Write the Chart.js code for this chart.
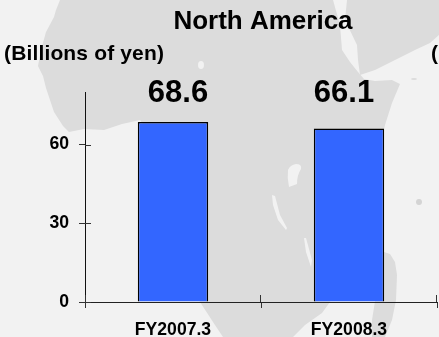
<!DOCTYPE html>
<html>
<head>
<meta charset="utf-8">
<title>North America</title>
<script src="https://cdn.jsdelivr.net/npm/chart.js@4"></script>
<style>
  html, body { margin: 0; padding: 0; background: #f2f2f2; overflow: hidden; }
  #wrap { position: relative; width: 439px; height: 337px; }
  #map, #myChart { position: absolute; left: 0; top: 0; }
  #map { filter: blur(0.5px); }
</style>
</head>
<body>
<div id="wrap">
  <!-- backdrop: pale map of Africa and Arabia -->
  <svg id="map" width="439" height="337" viewBox="0 0 439 337">
    <path fill="#dcdcdc" d="M60 0 L56 10 L54 17 L46 32 L41 50 L38 66 L43 76 L46 88 L54 112 L63 126 L69 132 L84 129 L104 130 L122 124 L140 120 L155 140 L170 190 L185 270 L200 302 L213 322 L223 337 L293 337 L305 325 L322 313 L330 302 L345 262 L375 170 L385 125 L392 103 L400 84 L392 80 L375 81 L364 79 L358 72 L350 62 L342 50 L340 25 L333 0 Z"/>
    <path fill="#dcdcdc" d="M347 0 L439 0 L439 35 L430 43 L415 50 L395 60 L375 70 L360 75 L358 60 L357 45 L345 20 Z"/>
    <path fill="#dcdcdc" d="M384 252 L390 254 L395 262 L397 275 L396 300 L392 320 L385 337 L372 337 L372 320 L376 295 Z"/>
    <path fill="#f2f2f2" d="M288 170 Q290 165 296 164 Q302 164 301 169 Q297 175 297 184 L289 187 Q287 178 288 170 Z"/>
    <path fill="#f2f2f2" d="M272 195 L275 196 L280 215 L287 228 L286 230 L278 220 L273 205 Z"/>
    <path fill="#f2f2f2" d="M304 238 L306 238 L312 260 L311 267 L306 252 Z"/>
    <ellipse fill="#f2f2f2" cx="201" cy="65" rx="3" ry="4"/>
    <ellipse fill="#dcdcdc" cx="414" cy="79" rx="3" ry="1"/>
    <circle fill="#d4d4d4" cx="419" cy="202" r="3"/>
  </svg>
  <canvas id="myChart" width="439" height="337"></canvas>
</div>
<script>
var categories = ['FY2007.3', 'FY2008.3'];
var sales = [68.6, 66.1];
var yTicks = [0, 30, 60];
var yMax = 80;
var labelShift = [5, -5]; // value labels sit a little off the bar centres

var FONT = '"Liberation Sans", Arial, sans-serif';

// value labels, heading and the inner half of each tick
var extras = {
  id: 'extras',
  afterDatasetsDraw: function(chart) {
    var ctx = chart.ctx;
    var x = chart.scales.x, y = chart.scales.y;
    var area = chart.chartArea;

    ctx.save();
    ctx.strokeStyle = '#333';
    ctx.lineWidth = 1;
    yTicks.forEach(function(v) {
      var py = Math.round(y.getPixelForValue(v)) + 0.5;
      ctx.beginPath();
      ctx.moveTo(area.left, py);
      ctx.lineTo(area.left + 6, py);
      ctx.stroke();
    });
    var step = (area.right - area.left) / categories.length;
    for (var i = 0; i <= categories.length; i++) {
      var px = Math.round(area.left + i * step) - 0.5 + (i == 0 ? 1 : 0);
      ctx.beginPath();
      ctx.moveTo(px, area.bottom - 7);
      ctx.lineTo(px, area.bottom);
      ctx.stroke();
    }

    ctx.fillStyle = '#000';
    ctx.textBaseline = 'alphabetic';
    ctx.textAlign = 'center';
    ctx.font = 'bold 31px ' + FONT;
    sales.forEach(function(v, i) {
      ctx.fillText(v.toFixed(1), x.getPixelForValue(i) + labelShift[i], 101.5);
    });

    ctx.font = 'bold 26px ' + FONT;
    ctx.fillText('North America', 263, 29);

    ctx.textAlign = 'left';
    ctx.font = 'bold 21px ' + FONT;
    ctx.letterSpacing = '0.15px';
    ctx.fillText('(Billions of yen)', 4, 60);
    ctx.fillText('(', 431, 60);
    ctx.restore();
  }
};

var ctx = document.getElementById('myChart').getContext('2d');
var myChart = new Chart(ctx, {
  type: 'bar',
  data: {
    labels: categories,
    datasets: [{
      label: 'North America',
      data: sales,
      backgroundColor: '#3366ff',
      borderColor: '#000',
      borderWidth: 1.5,
      barPercentage: 0.4,
      categoryPercentage: 1
    }]
  },
  options: {
    responsive: false,
    animation: false,
    layout: { padding: { top: 92, right: 2, left: 0, bottom: 0 } },
    plugins: { legend: { display: false }, tooltip: { enabled: false } },
    scales: {
      x: {
        afterFit: function(s) { s.height = 35; },
        border: { color: '#222', width: 1 },
        grid: { offset: true, drawOnChartArea: false, drawTicks: true, tickLength: 6, tickColor: '#333' },
        ticks: {
          color: '#000',
          padding: 12,
          maxRotation: 0,
          font: { family: FONT, size: 17.6, weight: 'bold' }
        }
      },
      y: {
        min: 0,
        max: yMax,
        afterFit: function(s) { s.width = 85; },
        afterBuildTicks: function(s) { s.ticks = yTicks.map(function(v) { return { value: v }; }); },
        border: { color: '#111', width: 1 },
        grid: { drawOnChartArea: false, tickLength: 6, tickColor: '#333' },
        ticks: {
          color: '#000',
          padding: 10,
          font: { family: FONT, size: 17.6, weight: 'bold' }
        }
      }
    }
  },
  plugins: [extras]
});
</script>
</body>
</html>
